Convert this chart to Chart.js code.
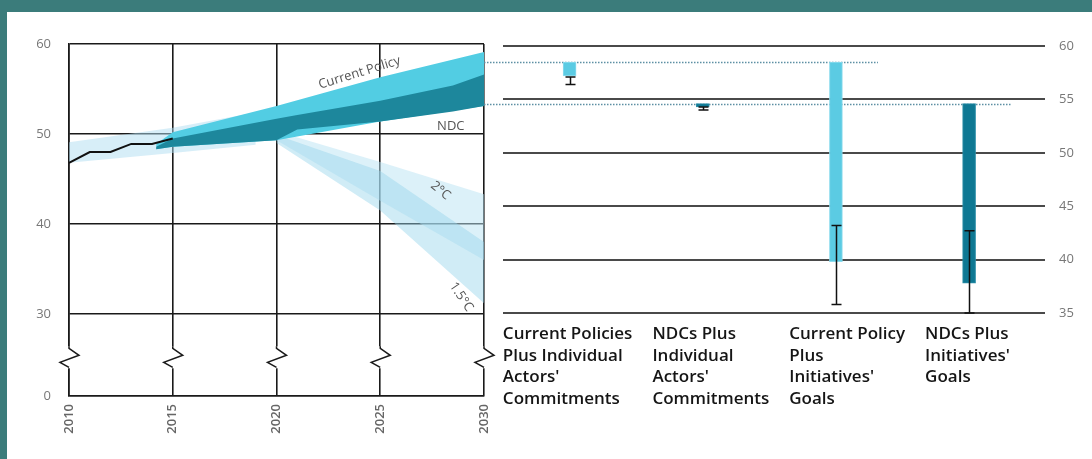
<!DOCTYPE html>
<html>
<head>
<meta charset="utf-8">
<script src="https://cdn.jsdelivr.net/npm/chart.js@4.4.1/dist/chart.umd.min.js"></script>
<style>
  html, body { margin: 0; padding: 0; background: #fff; }
  #frame { position: relative; width: 1092px; height: 459px; background: #fff; overflow: hidden; }
  .edge { position: absolute; background: #3b7c7b; }
  #trend { position: absolute; left: 0; top: 0; }
  #bars { position: absolute; left: 484px; top: 0; }
</style>
</head>
<body>
<div id="frame">
  <canvas id="trend" width="500" height="459"></canvas>
  <canvas id="bars" width="608" height="459"></canvas>
  <div class="edge" style="left:0;top:0;width:1092px;height:12px"></div>
  <div class="edge" style="left:0;top:0;width:7px;height:459px"></div>
</div>
<script>
// --- left panel: emissions pathways (GtCO2e) ---
const histYears = [2010, 2011, 2012, 2013, 2014, 2015];
const histValues = [46.8, 48.0, 48.0, 48.9, 48.9, 49.5];

const histBandYears = [2010, 2015, 2019];
const histBandLow = [46.8, 47.9, 48.8];
const histBandHigh = [49.1, 50.7, 52.4];

const cpYears = [2014.2, 2015, 2020, 2025, 2030];
const cpLow = [48.3, 48.6, 49.3, 51.4, 53.1];
const cpHigh = [48.9, 50.2, 53.1, 56.3, 59.1];

const ndcYears = [2014.2, 2015, 2020, 2021, 2025, 2028.5, 2030];
const ndcLow = [48.3, 48.6, 49.3, 50.5, 51.4, 52.5, 53.1];
const ndcHigh = [48.6, 49.5, 51.7, 52.1, 53.7, 55.4, 56.6];

const scenarioYears = [2020, 2025, 2030];
const twoDegLow = [49.3, 42.6, 36.0];
const twoDegHigh = [50.3, 46.9, 43.3];
const onePointFiveLow = [49.0, 41.5, 31.2];
const onePointFiveHigh = [49.9, 45.9, 38.0];

const leftTicks = [30, 40, 50, 60];
const AXIS_FLOOR = 20.9;   // where the "0" tick sits below the axis break
const BREAK_VALUE = 25.2;

// --- right panel: 2030 scenarios ---
const categories = [
  ['Current Policies', 'Plus Individual', "Actors'", 'Commitments'],
  ['NDCs Plus', 'Individual', "Actors'", 'Commitments'],
  ['Current Policy', 'Plus', "Initiatives'", 'Goals'],
  ['NDCs Plus', "Initiatives'", 'Goals']
];
const barTop = [58.5, 54.6, 58.5, 54.6];
const barBottom = [57.2, 54.3, 39.8, 37.8];
const errHigh = [57.1, 54.3, 43.2, 42.7];
const errLow = [56.4, 54.0, 35.8, 35.0];

Chart.defaults.font.family = '"Open Sans", sans-serif';
Chart.defaults.animation = false;

const LIGHT = '#5bcbe3';
const DARK = '#0e7893';

function band(xs, lo, hi, color, order) {
  return [
    { data: xs.map((x, i) => ({ x, y: lo[i] })), borderColor: 'transparent', borderWidth: 0, pointRadius: 0, fill: false, order },
    { data: xs.map((x, i) => ({ x, y: hi[i] })), borderColor: 'transparent', borderWidth: 0, pointRadius: 0, fill: '-1', backgroundColor: color, order }
  ];
}

const bandLabels = [
  { text: 'Current Policy', year: 2024.0, value: 56.8, angle: -17 },
  { text: 'NDC', year: 2028.4, value: 50.9, angle: 0 },
  { text: '2°C', year: 2027.9, value: 43.7, angle: 40 },
  { text: '1.5°C', year: 2028.9, value: 31.9, angle: 56 }
];

const trendDecor = {
  id: 'trendDecor',
  afterDraw(chart) {
    const { ctx, scales: { x, y } } = chart;
    ctx.save();
    // axis break on every vertical grid line
    const mid = y.getPixelForValue(BREAK_VALUE);
    ctx.strokeStyle = '#1a1a1a';
    ctx.lineWidth = 1.5;
    x.ticks.forEach(t => {
      const px = x.getPixelForValue(t.value);
      ctx.fillStyle = '#fff';
      ctx.fillRect(px - 2, mid - 11, 4, 22);
      ctx.beginPath();
      ctx.moveTo(px, mid - 11);
      ctx.lineTo(px, mid - 9);
      ctx.lineTo(px + 10, mid - 2);
      ctx.lineTo(px - 9, mid + 5);
      ctx.lineTo(px, mid + 10);
      ctx.stroke();
    });
    // band names
    ctx.fillStyle = '#555';
    ctx.font = '13px "Open Sans", sans-serif';
    ctx.textAlign = 'center';
    ctx.textBaseline = 'middle';
    bandLabels.forEach(l => {
      ctx.save();
      ctx.translate(x.getPixelForValue(l.year), y.getPixelForValue(l.value));
      ctx.rotate(l.angle * Math.PI / 180);
      ctx.fillText(l.text, 0, 0);
      ctx.restore();
    });
    ctx.restore();
  }
};

new Chart(document.getElementById('trend'), {
  type: 'line',
  data: {
    datasets: [
      ...band(scenarioYears, twoDegLow, twoDegHigh, 'rgba(185, 227, 244, 0.5)', 6),
      ...band(scenarioYears, onePointFiveLow, onePointFiveHigh, 'rgba(150, 212, 236, 0.45)', 5),
      ...band(histBandYears, histBandLow, histBandHigh, 'rgba(175, 222, 241, 0.5)', 4),
      ...band(cpYears, cpLow, cpHigh, '#52cde3', 3),
      ...band(ndcYears, ndcLow, ndcHigh, '#1d879c', 2),
      { data: histYears.map((x, i) => ({ x, y: histValues[i] })), borderColor: '#111', borderWidth: 2, pointRadius: 0, fill: false, order: 1 }
    ]
  },
  options: {
    responsive: false,
    layout: { padding: { top: 44, right: 16, left: 0, bottom: 0 } },
    plugins: { legend: { display: false }, tooltip: { enabled: false } },
    scales: {
      x: {
        type: 'linear', min: 2010, max: 2030,
        afterFit(s) { s.height = 63; s.paddingLeft = 0; s.paddingRight = 0; },
        grid: { color: '#1a1a1a', lineWidth: 1.6, drawTicks: false },
        border: { color: '#1a1a1a', width: 1.6 },
        ticks: { stepSize: 5, minRotation: 90, maxRotation: 90, padding: 8, color: '#666', font: { size: 13, weight: '600' }, callback: v => String(v) }
      },
      y: {
        min: AXIS_FLOOR, max: 60,
        afterFit(s) { s.width = 69; },
        afterBuildTicks(s) { s.ticks = [AXIS_FLOOR, ...leftTicks].map(value => ({ value })); },
        grid: { color: '#1a1a1a', lineWidth: 1.6, drawTicks: false },
        border: { color: '#1a1a1a', width: 1.6 },
        ticks: { padding: 18, color: '#777', font: { size: 13 }, callback: v => (v === AXIS_FLOOR ? '0' : String(v)) }
      }
    }
  },
  plugins: [trendDecor]
});

// --- right panel ---
const levelLines = {
  id: 'levelLines',
  beforeDatasetsDraw(chart) {
    const { ctx, scales: { x, y } } = chart;
    ctx.save();
    ctx.strokeStyle = '#5d8fa3';
    ctx.lineWidth = 1.3;
    ctx.setLineDash([1.5, 1.5]);
    [...new Set(barTop)].forEach(level => {
      const last = barTop.lastIndexOf(level);
      const py = Math.round(y.getPixelForValue(level)) + 0.5;
      ctx.beginPath();
      ctx.moveTo(0, py);
      ctx.lineTo(x.getPixelForValue(last) + 42, py);
      ctx.stroke();
    });
    ctx.restore();
  }
};

const errorBars = {
  id: 'errorBars',
  afterDatasetsDraw(chart) {
    const { ctx, scales: { x, y } } = chart;
    ctx.save();
    ctx.strokeStyle = '#111';
    ctx.lineWidth = 1.5;
    errHigh.forEach((hi, i) => {
      const px = Math.round(x.getPixelForValue(i)) + 0.5;
      const top = y.getPixelForValue(hi);
      const bot = y.getPixelForValue(errLow[i]);
      ctx.beginPath();
      ctx.moveTo(px, top); ctx.lineTo(px, bot);
      ctx.moveTo(px - 5, top); ctx.lineTo(px + 5, top);
      ctx.moveTo(px - 5, bot); ctx.lineTo(px + 5, bot);
      ctx.stroke();
    });
    ctx.restore();
  }
};

const categoryLabels = {
  id: 'categoryLabels',
  afterDraw(chart) {
    const { ctx, scales: { x, y } } = chart;
    ctx.save();
    ctx.font = '600 17px "Open Sans", sans-serif';
    ctx.fillStyle = '#151515';
    ctx.textBaseline = 'top';
    const lefts = [];
    for (let i = categories.length - 1; i >= 0; i--) {
      const w = Math.max(...categories[i].map(l => ctx.measureText(l).width));
      let left = x.getPixelForValue(i) - 44;
      if (i < categories.length - 1) left = Math.min(left, lefts[i + 1] - w - 20);
      lefts[i] = left;
    }
    categories.forEach((lines, i) => {
      lines.forEach((l, j) => ctx.fillText(l, lefts[i], y.bottom + 13 + j * 21.5));
    });
    ctx.restore();
  }
};

new Chart(document.getElementById('bars'), {
  type: 'bar',
  data: {
    datasets: [{
      data: barBottom.map((b, i) => ({ x: i, y: [b, barTop[i]] })),
      backgroundColor: [LIGHT, DARK, LIGHT, DARK],
      borderColor: ['#8edcee', '#2c8fa8', '#8edcee', '#2c8fa8'],
      borderWidth: 1,
      borderSkipped: false,
      barThickness: 13
    }]
  },
  options: {
    responsive: false,
    layout: { padding: { top: 46, left: 19, right: 0, bottom: 0 } },
    plugins: { legend: { display: false }, tooltip: { enabled: false } },
    scales: {
      x: {
        type: 'linear', offset: false, min: -0.5, max: categories.length - 0.43,
        afterFit(s) { s.height = 146; },
        grid: { display: false },
        border: { display: false },
        ticks: { display: false }
      },
      y: {
        position: 'right',
        min: 35, max: 60,
        afterFit(s) { s.width = 47; },
        grid: { color: '#4a4a4a', lineWidth: 2, drawTicks: false },
        border: { display: false },
        ticks: { stepSize: 5, padding: 14, color: '#777', font: { size: 13 } }
      }
    }
  },
  plugins: [levelLines, errorBars, categoryLabels]
});
</script>
</body>
</html>
